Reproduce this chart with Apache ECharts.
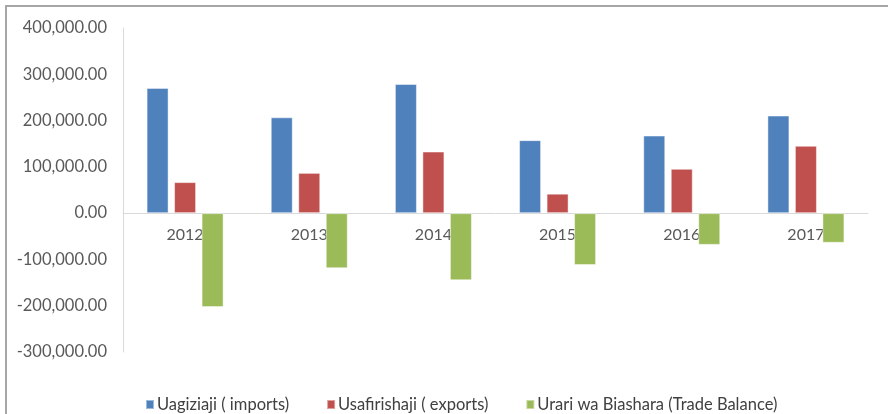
<!DOCTYPE html>
<html>
<head>
<meta charset="utf-8">
<script src="https://cdn.jsdelivr.net/npm/echarts@6/dist/echarts.min.js"></script>
<style>
  html, body { margin: 0; padding: 0; background: #fff; }
  #chart { width: 888px; height: 414px; }
</style>
</head>
<body>
<div id="chart"></div>
<script>
var years = ['2012', '2013', '2014', '2015', '2016', '2017'];
var imports = [270600, 207000, 279000, 157700, 167600, 210800];
var exports = [67000, 87000, 133000, 42000, 95700, 145400];
var balance = [-203000, -119000, -145000, -112000, -68500, -64000];
var seriesNames = ['Uagiziaji ( imports)', 'Usafirishaji ( exports)', 'Urari wa Biashara (Trade Balance)'];

var chart = echarts.init(document.getElementById('chart'));

var font = 'Lato, "Noto Sans", sans-serif';

var gridTop = 28, gridBottom = 62;
var yMin = -300000, yMax = 400000;
// distance from the bottom of the grid up to the zero line
var zeroOffset = (414 - gridTop - gridBottom) * (0 - yMin) / (yMax - yMin);

function fmt(v) {
  return v.toLocaleString('en-US', { minimumFractionDigits: 2, maximumFractionDigits: 2 });
}

var option = {
  animation: false,
  color: ['#4F81BD', '#C0504D', '#9BBB59'],
  graphic: [{
    type: 'rect',
    shape: { x: 6, y: 6, width: 900, height: 500 },
    style: { fill: 'none', stroke: '#a6a6a6', lineWidth: 2 },
    silent: true
  }],
  grid: { left: 123, right: 20, top: gridTop, bottom: gridBottom },
  legend: {
    left: 140,
    top: 391,
    itemWidth: 8,
    itemHeight: 9,
    itemGap: 37,
    icon: 'rect',
    textStyle: { fontFamily: font, fontSize: 16.5, color: '#404040', padding: [0, 0, 0, -2] },
    data: seriesNames
  },
  xAxis: {
    type: 'category',
    data: years,
    position: 'bottom',
    offset: -zeroOffset,
    axisLine: { onZero: false, lineStyle: { color: '#d9d9d9', width: 1 } },
    axisTick: { show: false },
    axisLabel: { fontFamily: font, fontSize: 16, color: '#595959', margin: 14 },
    splitLine: { show: false }
  },
  yAxis: {
    type: 'value',
    min: yMin,
    max: yMax,
    interval: 100000,
    axisLine: { show: true, lineStyle: { color: '#d9d9d9', width: 1 } },
    axisTick: { show: false },
    splitLine: { show: false },
    axisLabel: {
      fontFamily: font, fontSize: 16.5, color: '#595959', margin: 16,
      formatter: fmt
    }
  },
  series: [
    { name: seriesNames[0], type: 'bar', data: imports, barWidth: 22, barGap: '25%',
      itemStyle: { borderColor: 'rgba(255,255,255,0.45)', borderWidth: 1 } },
    { name: seriesNames[1], type: 'bar', data: exports, barWidth: 22, barGap: '25%',
      itemStyle: { borderColor: 'rgba(255,255,255,0.45)', borderWidth: 1 } },
    { name: seriesNames[2], type: 'bar', data: balance, barWidth: 22, barGap: '25%',
      itemStyle: { borderColor: 'rgba(255,255,255,0.45)', borderWidth: 1 } }
  ]
};

chart.setOption(option);
</script>
</body>
</html>
